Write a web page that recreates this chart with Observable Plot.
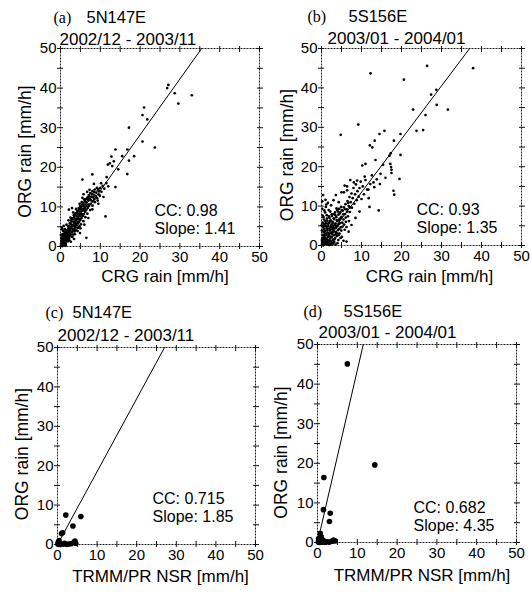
<!DOCTYPE html>
<html><head><meta charset="utf-8">
<script src="https://cdn.jsdelivr.net/npm/d3@7"></script>
<script src="https://cdn.jsdelivr.net/npm/@observablehq/plot@0.6"></script>
<style>
body{margin:0;background:#fff;}
#wrap{position:relative;width:531px;height:592px;overflow:hidden;background:#fff;}
.panel{position:absolute;}
</style></head><body><div id="wrap"></div>
<script>
// ---------- data ----------
const panelIds = ["(a)","(b)","(c)","(d)"];
const sites = ["5N147E","5S156E","5N147E","5S156E"];
const periods = ["2002/12 - 2003/11","2003/01 - 2004/01","2002/12 - 2003/11","2003/01 - 2004/01"];
const xLabels = ["CRG rain [mm/h]","CRG rain [mm/h]","TRMM/PR NSR [mm/h]","TRMM/PR NSR [mm/h]"];
const yLabel = "ORG rain [mm/h]";
const ccValues = ["0.98","0.93","0.715","0.682"];
const slopes = [1.41,1.35,1.85,4.35];
const tickValues = [0,10,20,30,40,50];
const minorTickValues = [0,5,10,15,20,25,30,35,40,45,50];

// (a) CRG vs ORG at 5N147E
const ptsA = [
[27.1,40.8],[26.8,40.0],[28.7,38.7],[29.6,36.1],[33.0,38.2],[21.0,35.1],[20.6,33.2],[21.8,32.1],[17.2,30.0],[20.6,26.5],[23.7,25.0],[13.8,24.5],[16.8,24.5],[12.8,22.7],[15.5,22.8],[18.5,22.8],[17.2,21.7],[11.9,20.7],[13.0,20.3],[12.4,21.0],[13.4,21.5],[8.0,18.2],[16.8,18.3],[11.6,17.5],[5.5,16.9],[13.8,15.0],[11.3,7.6],[6.5,2.2],[2.1,9.3],[2.9,9.7],[10.2,16.0],[9.5,14.5],[14.5,19.5],
[0.1,0.1],[0.2,0.4],[0.3,0.2],[0.2,0.8],[0.4,0.6],[0.5,0.1],[0.5,1.2],[0.6,0.4],[0.7,0.9],[0.8,1.5],[0.8,0.3],[0.9,1.1],[1.0,2.0],[1.0,0.6],[1.1,1.4],[1.2,2.5],[1.2,0.9],[1.3,1.8],[1.4,3.0],[1.4,1.2],[1.5,2.2],[1.6,3.4],[1.6,1.6],[1.7,2.6],[1.8,4.0],[1.8,1.9],[1.9,3.0],[2.0,4.6],[2.0,2.3],[0.3,1.6],[0.5,2.4],[0.7,3.2],[0.9,3.8],[0.4,3.0],[1.1,4.4],[0.2,2.2],[0.6,4.0],[0.3,4.8],[0.8,5.2],
[2.1,3.4],[2.2,5.2],[2.3,2.7],[2.4,4.0],[2.5,5.8],[2.6,3.1],[2.7,4.6],[2.8,6.3],[2.9,3.6],[3.0,5.1],[3.1,6.9],[3.2,4.0],[3.3,5.6],[3.4,7.4],[3.5,4.4],[3.6,6.1],[3.7,7.9],[3.8,4.8],[3.9,6.6],[4.0,8.3],[4.1,5.3],[4.2,7.0],[4.3,8.7],[4.4,5.8],[4.5,7.5],[4.6,9.2],[4.7,6.2],[4.8,8.0],[4.9,9.6],[5.0,6.7],[2.2,1.6],[3.0,2.4],[3.6,3.1],[4.3,3.9],[5.0,4.6],[2.5,7.3],[3.2,8.6],[3.9,9.5],[1.5,5.5],[2.0,6.6],
[5.1,8.4],[5.2,10.0],[5.3,7.2],[5.4,9.0],[5.5,10.6],[5.6,7.7],[5.7,9.5],[5.8,11.0],[5.9,8.2],[6.0,10.1],[6.1,11.5],[6.2,8.8],[6.3,10.6],[6.4,12.0],[6.5,9.3],[6.6,11.1],[6.8,12.4],[6.9,9.8],[7.0,11.6],[7.1,13.0],[7.2,10.3],[7.4,12.1],[7.5,13.5],[7.6,10.8],[7.8,12.6],[8.0,14.0],[8.1,11.4],[8.3,13.1],[8.5,11.9],[8.6,14.4],[8.8,12.8],[9.0,13.6],[9.2,12.2],[9.4,14.2],[9.7,13.1],[10.0,14.8],[10.3,13.8],[10.6,15.3],[11.0,14.6],[11.5,16.0],[12.0,15.2],[5.5,12.3],[6.7,13.8],[7.3,14.3],[8.4,15.8],[6.0,5.5],[7.0,7.2],[8.0,9.4],[9.5,10.8],[10.8,12.5],[4.8,10.8],[5.8,13.2],
[0.15,0.7],[0.35,1.4],[0.55,0.5],[0.65,1.9],[0.85,2.6],[0.95,0.8],[1.05,3.1],[1.15,1.9],[1.25,3.6],[1.35,0.6],[1.45,2.7],[1.55,4.1],[1.65,2.3],[1.75,3.5],[1.85,1.3],[1.95,5.1],[2.05,3.9],[2.15,2.1],[2.25,4.4],[2.35,5.9],[2.45,3.0],[2.55,4.9],[2.65,6.6],[2.75,2.5],[2.85,5.4],[2.95,7.1],[3.05,4.4],[3.15,3.0],[3.25,6.3],[3.35,7.9],[3.45,5.2],[3.55,3.8],[3.65,6.9],[3.75,8.4],[3.85,5.7],[3.95,4.1],[4.05,7.6],[4.15,9.0],[4.25,6.2],[4.35,4.7],[4.45,8.1],[4.55,9.7],[4.65,6.9],[4.75,5.1],[4.85,8.8],[4.95,10.2],[5.05,7.7],[5.15,5.6],[5.25,9.4],[5.35,11.2],[5.45,8.2],[5.65,10.3],[5.75,6.4],[5.85,9.1],[5.95,11.9],[6.15,9.7],[6.25,7.4],[6.35,11.3],[6.55,10.2],[6.75,8.3],[6.85,11.9],[7.05,10.6],[7.25,12.6],[7.45,9.2],[7.65,11.7],[7.85,13.3],[8.05,10.3],[8.25,12.4],[8.45,13.8],[8.65,11.2],[8.95,12.4],[9.15,14.8],[9.35,11.6],[9.65,14.0],[9.9,12.8],[3.4,1.9],[2.6,1.2],[4.9,3.4],[1.3,0.2],[0.1,2.9],[0.45,4.4]
];

// (b) CRG vs ORG at 5S156E
const ptsB = [
[26.4,45.6],[37.9,45.0],[12.25,43.7],[20.6,42.1],[27.4,38.3],[28.7,39.5],[22.9,34.5],[28.8,35.7],[31.6,34.5],[26.0,33.1],[23.75,29.1],[25.4,29.3],[9.2,30.7],[4.8,28.1],[19.75,28.3],[15.75,29.1],[14.5,28.3],[13.3,26.6],[12.7,24.9],[18.1,26.6],[17.3,23.4],[17.0,22.8],[19.75,23.0],[19.5,16.9],[17.2,20.7],[17.4,19.9],[17.5,19.2],[17.5,18.4],[18.0,13.9],[18.2,12.9],[14.3,8.9],[10.8,17.5],[10.2,20.3],[11.0,20.7],[13.5,21.7],[14.75,18.2],[8.9,16.5],[8.1,16.0],[6.4,15.0],[5.6,13.5],[13.0,16.0],[6.25,1.0],[0.2,9.3],[12.1,25.4],[11.7,14.2],
[0.1,0.2],[0.2,0.6],[0.3,1.2],[0.2,1.9],[0.4,0.3],[0.4,2.6],[0.5,0.9],[0.5,3.4],[0.6,1.6],[0.6,4.2],[0.7,0.2],[0.7,2.3],[0.8,5.0],[0.8,1.0],[0.9,3.0],[1.0,0.5],[1.0,1.8],[1.0,3.8],[1.1,5.6],[1.2,0.9],[1.2,2.6],[1.3,4.4],[1.4,0.3],[1.4,1.5],[1.5,3.3],[1.5,6.2],[1.6,2.1],[1.7,0.7],[1.7,4.9],[1.8,3.0],[1.9,1.3],[1.9,5.7],[2.0,2.4],[2.0,7.0],[2.1,0.4],[2.1,3.9],[2.2,1.8],[2.3,4.6],[2.3,6.4],[2.4,1.0],[2.4,3.1],[2.5,5.3],[2.6,2.2],[2.6,7.5],[2.7,0.6],[2.7,4.1],[2.8,6.0],[2.9,1.5],[2.9,3.4],[3.0,8.0],[3.0,5.0],[3.1,2.6],[3.2,0.9],[3.2,6.7],[3.3,4.3],[3.4,1.9],[3.4,8.4],[3.5,5.6],[3.6,3.4],[3.7,7.2],[3.8,2.4],[3.8,4.9],[3.9,9.0],[4.0,6.2],[4.1,3.9],[4.2,1.4],[4.2,7.8],[4.3,5.4],[4.4,9.3],[4.5,3.0],[4.6,6.8],[4.7,8.4],[4.8,4.6],[4.9,9.8],[5.0,7.3],[5.1,2.2],[5.2,5.8],[5.3,8.8],[5.5,6.6],[5.6,9.7],[5.8,4.0],[5.9,8.0],[6.0,10.5],[6.1,6.0],[6.3,9.2],[6.5,11.3],[6.6,7.4],[6.8,10.0],[7.0,12.3],[7.1,8.5],[7.3,11.0],[7.5,13.2],[7.6,9.6],[7.8,12.0],[8.0,14.6],[8.2,10.6],[8.4,13.0],[8.6,15.5],[8.8,11.5],[9.0,13.8],[9.3,12.4],[9.5,14.6],[9.8,16.2],[10.0,11.8],[10.3,15.0],[10.6,13.0],[11.0,16.6],[11.4,14.2],[11.8,12.0],[12.2,15.6],[12.6,17.8],[13.2,14.8],[13.8,16.8],[14.6,15.6],[15.4,20.5],[16.0,17.2],
[0.3,5.8],[0.5,7.2],[0.9,8.4],[0.6,6.6],[1.3,7.7],[1.8,9.0],[2.4,10.2],[3.0,11.5],[3.6,12.8],[4.3,11.0],[5.0,13.5],[5.8,15.2],[6.4,14.0],[7.2,16.6],[4.0,0.6],[5.5,1.2],[6.8,3.5],[7.5,5.2],[8.5,7.0],[9.5,8.6],[12.0,9.8],[3.5,0.2],[1.1,9.8],[2.2,8.6],[1.6,10.8],[0.4,12.8],[1.0,11.6],
[0.15,0.9],[0.25,2.7],[0.35,0.4],[0.45,4.6],[0.55,2.0],[0.65,5.4],[0.75,3.6],[0.85,0.6],[0.95,6.2],[1.05,2.9],[1.15,4.9],[1.25,1.4],[1.35,6.8],[1.45,3.9],[1.55,0.8],[1.65,5.5],[1.75,2.7],[1.85,7.4],[1.95,4.3],[2.05,1.1],[2.15,6.1],[2.25,3.4],[2.35,0.2],[2.45,5.0],[2.55,7.9],[2.65,2.9],[2.75,5.6],[2.85,1.3],[2.95,4.6],[3.05,6.9],[3.15,3.6],[3.25,1.6],[3.35,5.2],[3.45,7.7],[3.55,2.9],[3.65,4.5],[3.75,9.4],[3.85,6.4],[3.95,3.1],[4.05,5.0],[4.15,8.6],[4.25,2.6],[4.35,6.5],[4.45,4.2],[4.55,8.1],[4.65,5.7],[4.75,1.9],[4.85,7.0],[4.95,3.8],[5.05,9.0],[5.25,4.8],[5.45,7.9],[5.65,5.3],[5.85,9.2],[6.05,7.1],[6.25,4.7],[6.45,8.6],[6.65,10.8],[6.85,6.2],[7.05,9.6],[0.1,3.8],[0.3,7.6],[0.7,8.9],[1.2,10.4],[0.05,5.1],[0.2,11.2],[0.1,1.4],[0.4,0.05],[1.9,0.1],[2.9,0.5]
];

// (c) TRMM/PR NSR vs ORG at 5N147E
const ptsC = [
[0.1,0.1],[0.2,0.6],[0.3,0.0],[0.4,1.0],[0.6,0.2],[0.8,0.0],[1.0,2.8],[1.3,3.0],[1.5,0.1],[1.8,0.3],[2.1,7.5],[2.3,0.0],[2.8,0.1],[3.4,0.2],[3.9,4.7],[4.1,0.5],[4.4,0.9],[4.6,0.3],[5.9,7.1]
];

// (d) TRMM/PR NSR vs ORG at 5S156E
const ptsD = [
[7.5,45.1],[14.4,19.6],[1.6,16.4],[1.5,8.3],[3.2,7.4],[3.0,5.3],[0.7,2.3],[0.9,1.5],[0.2,0.1],[0.4,0.6],[0.6,0.0],[0.9,0.3],[1.2,0.1],[1.5,0.5],[1.9,0.0],[2.4,0.2],[3.0,0.1],[3.6,0.3],[4.0,0.6],[4.4,0.4],[0.3,1.0],[1.1,0.8]
];

const pointSets = [ptsA, ptsB, ptsC, ptsD];

// ---------- layout (positions/sizes/styles) ----------
const layout = [
  {left:0,   top:0,   width:265, height:295, mt:48, mr:6,  mb:49, ml:60, r:1.35,
   idDx:-7,  siteDx:26, line1Dy:-26, dateDx:-1, dateDy:-4, yDx:-30, yDy:4, xDx:5, xDy:35, sDx:94, sDy:-13},
  {left:265, top:0,   width:266, height:295, mt:48, mr:10, mb:50, ml:56, r:1.35,
   idDx:-14, siteDx:27, line1Dy:-27, dateDx:6,  dateDy:-5, yDx:-29, yDy:8, xDx:8, xDy:36, sDx:95, sDy:-13},
  {left:0,   top:295, width:265, height:297, mt:52, mr:10, mb:48, ml:57, r:2.8,
   idDx:-12, siteDx:15, line1Dy:-30, dateDx:0,  dateDy:-7, yDx:-30, yDy:8, xDx:4, xDy:37, sDx:95, sDy:-23},
  {left:265, top:295, width:266, height:297, mt:49, mr:15, mb:50, ml:52, r:2.8,
   idDx:-14, siteDx:26, line1Dy:-28, dateDx:1,  dateDy:-7, yDx:-31, yDy:9, xDx:5, xDy:38, sDx:96, sDy:-12}
];

const sans = "'Liberation Sans', Arial, Helvetica, sans-serif";
const serif = "'Liberation Serif', 'Times New Roman', serif";
const wrap = document.getElementById("wrap");

function makePanel(i) {
  const L = layout[i];
  const s = slopes[i];
  const fit = [{x: 0, y: 0}, {x: 50 / s, y: 50}];
  const lab = d => tickValues.includes(d) ? String(d) : "";
  const none = () => "";
  const tickStyle = {stroke: "#111", strokeWidth: 1, label: null};
  const plot = Plot.plot({
    width: L.width, height: L.height,
    marginTop: L.mt, marginRight: L.mr, marginBottom: L.mb, marginLeft: L.ml,
    x: {domain: [0, 50]},
    y: {domain: [0, 50]},
    style: {fontFamily: sans, fontSize: "15px", background: "transparent", overflow: "visible", color: "#000"},
    marks: [
      Plot.frame({stroke: "#222", strokeWidth: 1, strokeDasharray: "2,1"}),
      Plot.axisX(minorTickValues, {anchor: "bottom", tickSize: 3, tickPadding: 2, tickFormat: lab, fontSize: 15, ...tickStyle}),
      Plot.axisX(minorTickValues, {anchor: "bottom", tickSize: -3, tickFormat: none, ...tickStyle}),
      Plot.axisX(minorTickValues, {anchor: "top", tickSize: 3, tickFormat: none, ...tickStyle}),
      Plot.axisX(minorTickValues, {anchor: "top", tickSize: -3, tickFormat: none, ...tickStyle}),
      Plot.axisY(minorTickValues, {anchor: "left", tickSize: 3, tickPadding: 1, tickFormat: lab, fontSize: 15, ...tickStyle}),
      Plot.axisY(minorTickValues, {anchor: "left", tickSize: -3, tickFormat: none, ...tickStyle}),
      Plot.axisY(minorTickValues, {anchor: "right", tickSize: 3, tickFormat: none, ...tickStyle}),
      Plot.axisY(minorTickValues, {anchor: "right", tickSize: -3, tickFormat: none, ...tickStyle}),
      Plot.dot(pointSets[i], {x: d => d[0], y: d => d[1], r: L.r, fill: "#000", stroke: null}),
      Plot.line(fit, {x: "x", y: "y", stroke: "#000", strokeWidth: 1}),
      // titles
      Plot.text([panelIds[i]], {frameAnchor: "top-left", dx: L.idDx, dy: L.line1Dy, textAnchor: "start", lineAnchor: "bottom", fontSize: 16, fontFamily: serif, fill: "#000"}),
      Plot.text([sites[i]], {frameAnchor: "top-left", dx: L.siteDx, dy: L.line1Dy, textAnchor: "start", lineAnchor: "bottom", fontSize: 16.5, fill: "#000"}),
      Plot.text([periods[i]], {frameAnchor: "top-left", dx: L.dateDx, dy: L.dateDy, textAnchor: "start", lineAnchor: "bottom", fontSize: 17, fill: "#000"}),
      // axis labels
      Plot.text([xLabels[i]], {frameAnchor: "bottom", dx: L.xDx, dy: L.xDy, textAnchor: "middle", lineAnchor: "bottom", fontSize: 17, fill: "#000"}),
      Plot.text([yLabel], {frameAnchor: "left", dx: L.yDx, dy: L.yDy, rotate: -90, textAnchor: "middle", lineAnchor: "bottom", fontSize: 17.5, fill: "#000"}),
      // statistics
      Plot.text([`CC: ${ccValues[i]}\nSlope: ${slopes[i].toFixed(2)}`], {frameAnchor: "bottom-left", dx: L.sDx, dy: L.sDy, textAnchor: "start", lineAnchor: "bottom", lineHeight: 1.12, fontSize: 16, fill: "#000"})
    ]
  });
  const div = document.createElement("div");
  div.className = "panel";
  div.style.left = L.left + "px";
  div.style.top = L.top + "px";
  div.appendChild(plot);
  wrap.appendChild(div);
}

for (let i = 0; i < 4; i++) makePanel(i);
</script>
</body></html>
